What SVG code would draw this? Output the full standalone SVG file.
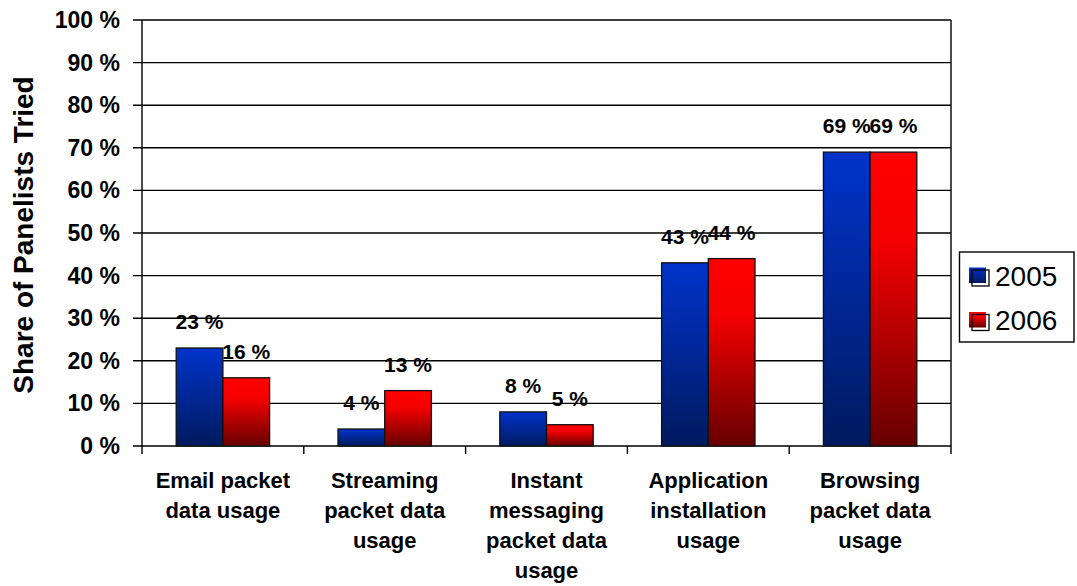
<svg xmlns="http://www.w3.org/2000/svg" width="1077" height="586" viewBox="0 0 1077 586">
  <defs>
    <linearGradient id="gBlue" x1="0" y1="0" x2="0" y2="1">
      <stop offset="0" stop-color="#0033cc"/>
      <stop offset="1" stop-color="#001a5e"/>
    </linearGradient>
    <linearGradient id="gRed" x1="0" y1="0" x2="0" y2="1">
      <stop offset="0" stop-color="#ff0000"/>
      <stop offset="0.3" stop-color="#f50000"/>
      <stop offset="1" stop-color="#660000"/>
    </linearGradient>
    <style>
      text { font-family: "Liberation Sans", Arial, sans-serif; fill: #000; }
      .tick { font-size: 23px; font-weight: bold; text-anchor: end; }
      .cat { font-size: 22px; font-weight: bold; text-anchor: middle; }
      .val { font-size: 21px; font-weight: bold; text-anchor: middle; }
      .title { font-size: 28px; font-weight: bold; text-anchor: middle; }
      .leg { font-size: 28px; }
      .grid { stroke: #000; stroke-width: 1.4; fill: none; }
      .b2005 { fill: url(#gBlue); stroke: #111; stroke-width: 1.3; }
      .b2006 { fill: url(#gRed); stroke: #111; stroke-width: 1.3; }
    </style>
  </defs>

  <rect width="1077" height="586" fill="#fff"/>

  <!-- axis title -->
  <text class="title" transform="translate(33,235) rotate(-90)">Share of Panelists Tried</text>

  <!-- gridlines, axes and ticks -->
  <g id="axes" class="grid">
    <path d="M133 20H951M133 62.6H951M133 105.2H951M133 147.8H951M133 190.4H951M133 233H951M133 275.6H951M133 318.2H951M133 360.8H951M133 403.4H951M133 446H951"/>
    <path d="M142 20V454M951 20V454M303.8 446V454M465.6 446V454M627.4 446V454M789.2 446V454"/>
  </g>

  <!-- y tick labels -->
  <g id="ytick-labels">
    <text class="tick" x="120" y="28">100 %</text>
    <text class="tick" x="120" y="70.6">90 %</text>
    <text class="tick" x="120" y="113.2">80 %</text>
    <text class="tick" x="120" y="155.8">70 %</text>
    <text class="tick" x="120" y="198.4">60 %</text>
    <text class="tick" x="120" y="241">50 %</text>
    <text class="tick" x="120" y="283.6">40 %</text>
    <text class="tick" x="120" y="326.2">30 %</text>
    <text class="tick" x="120" y="368.8">20 %</text>
    <text class="tick" x="120" y="411.4">10 %</text>
    <text class="tick" x="120" y="454">0 %</text>
  </g>

  <!-- bars per category -->
  <g id="email">
    <rect class="b2005" x="176.2" y="348" width="46.7" height="98"/>
    <rect class="b2006" x="222.9" y="377.8" width="46.7" height="68.2"/>
    <text class="val" x="199.5" y="329">23 %</text>
    <text class="val" x="246.2" y="358.8">16 %</text>
    <text class="cat" x="222.9" y="488">Email packet</text>
    <text class="cat" x="222.9" y="518">data usage</text>
  </g>
  <g id="streaming">
    <rect class="b2005" x="338" y="429" width="46.7" height="17"/>
    <rect class="b2006" x="384.7" y="390.6" width="46.7" height="55.4"/>
    <text class="val" x="361.3" y="410">4 %</text>
    <text class="val" x="408" y="371.6">13 %</text>
    <text class="cat" x="384.7" y="488">Streaming</text>
    <text class="cat" x="384.7" y="518">packet data</text>
    <text class="cat" x="384.7" y="548">usage</text>
  </g>
  <g id="instant-messaging">
    <rect class="b2005" x="499.8" y="411.9" width="46.7" height="34.1"/>
    <rect class="b2006" x="546.5" y="424.7" width="46.7" height="21.3"/>
    <text class="val" x="523.1" y="392.9">8 %</text>
    <text class="val" x="569.8" y="405.7">5 %</text>
    <text class="cat" x="546.5" y="488">Instant</text>
    <text class="cat" x="546.5" y="518">messaging</text>
    <text class="cat" x="546.5" y="548">packet data</text>
    <text class="cat" x="546.5" y="578">usage</text>
  </g>
  <g id="application">
    <rect class="b2005" x="661.6" y="262.8" width="46.7" height="183.2"/>
    <rect class="b2006" x="708.3" y="258.6" width="46.7" height="187.4"/>
    <text class="val" x="684.9" y="243.8">43 %</text>
    <text class="val" x="731.6" y="239.6">44 %</text>
    <text class="cat" x="708.3" y="488">Application</text>
    <text class="cat" x="708.3" y="518">installation</text>
    <text class="cat" x="708.3" y="548">usage</text>
  </g>
  <g id="browsing">
    <rect class="b2005" x="823.4" y="152.1" width="46.7" height="293.9"/>
    <rect class="b2006" x="870.1" y="152.1" width="46.7" height="293.9"/>
    <text class="val" x="846.7" y="133.1">69 %</text>
    <text class="val" x="893.4" y="133.1">69 %</text>
    <text class="cat" x="870.1" y="488">Browsing</text>
    <text class="cat" x="870.1" y="518">packet data</text>
    <text class="cat" x="870.1" y="548">usage</text>
  </g>

  <!-- legend -->
  <g id="legend">
    <rect x="959.5" y="252" width="114.5" height="90" fill="#fff" stroke="#000" stroke-width="1.4"/>
    <rect x="969" y="267.5" width="17" height="15.5" fill="url(#gBlue)"/>
    <rect x="972" y="270" width="17" height="16" fill="none" stroke="#000" stroke-width="1.3"/>
    <text class="leg" x="995" y="285.7">2005</text>
    <rect x="969" y="312" width="17" height="15.5" fill="url(#gRed)"/>
    <rect x="972" y="314.5" width="17" height="16" fill="none" stroke="#000" stroke-width="1.3"/>
    <text class="leg" x="995" y="330">2006</text>
  </g>
</svg>
